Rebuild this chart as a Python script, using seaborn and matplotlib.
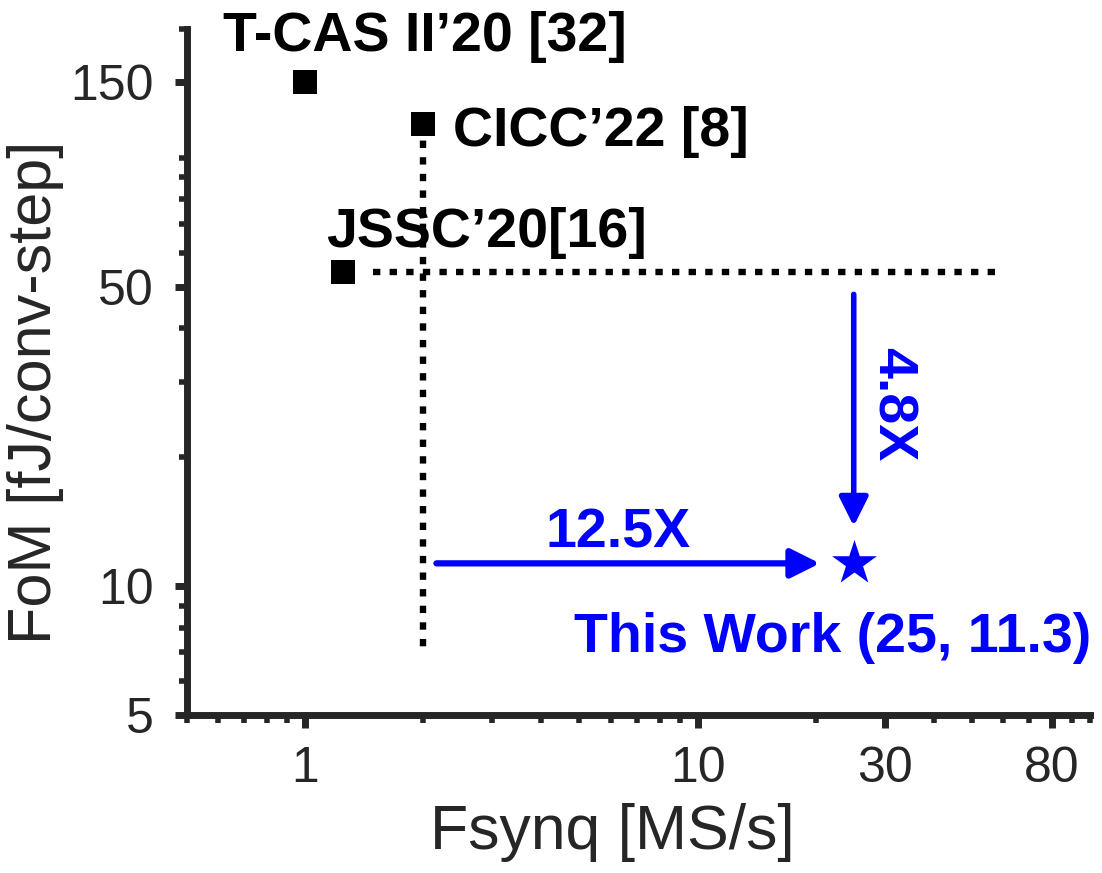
import numpy as np
import pandas as pd
import matplotlib
matplotlib.use("Agg")
import matplotlib.pyplot as plt
import seaborn as sns

# Prior work: sampling rate (MS/s) and FoM (fJ/conv-step)
ref_names = ["T-CAS II\u201920 [32]", "CICC\u201922 [8]", "JSSC\u201920[16]"]
ref_fs = [1.0, 2.0, 1.25]
ref_fom = [150.0, 120.0, 54.0]

# This work
work_fs = [25.0]
work_fom = [11.3]
work_label = "This Work (25, 11.3)"

# Guide lines (dotted) through the best prior points
vguide_x = [2.0, 2.0]
vguide_y = [120.0, 7.0]
hguide_x = [1.49, 60.0]
hguide_y = [54.0, 54.0]

# Improvement arrows
harrow_x = [2.16, 20.5]
harrow_y = [11.3, 11.3]
varrow_x = [25.0, 25.0]
varrow_y = [48.0, 13.8]
speed_gain = "12.5X"
fom_gain = "4.8X"

# Axis ticks
x_major = [1, 10, 30, 80]
x_labels = ["1", "10", "30", "80"]
x_minor = [0.5, 0.6, 0.7, 0.8, 0.9, 2, 3, 4, 5, 6, 7, 8, 9, 20, 40, 50, 60, 70, 90, 100]
y_major = [5, 10, 50, 150]
y_labels = ["5", "10", "50", "150"]
y_minor = [6, 7, 8, 9, 20, 30, 40, 60, 70, 80, 90, 100, 200]

sns.set_style("ticks")
plt.rcParams["font.family"] = ["Liberation Sans", "DejaVu Sans"]

AX = "#262626"
BLUE = "#0000ff"

fig = plt.figure(figsize=(11.02, 8.73), dpi=100)
ax = fig.add_axes([0.1697, 0.1810, 0.8194, 0.7858])

ax.set_xscale("log")
ax.set_yscale("log")

# dotted guides
dots = (0, (1.15, 1.45))
ax.plot(vguide_x, vguide_y, color="black", lw=4.6, ls=dots, zorder=2)
ax.plot(hguide_x, hguide_y, color="black", lw=4.6, ls=dots, zorder=2)

refs = pd.DataFrame({"fs": ref_fs, "fom": ref_fom, "name": ref_names})
work = pd.DataFrame({"fs": work_fs, "fom": work_fom})

sns.scatterplot(data=refs, x="fs", y="fom", marker="s", s=280, color="black",
                linewidth=0, ax=ax, zorder=3, legend=False)
sns.scatterplot(data=work, x="fs", y="fom", marker="*", s=1150, color=BLUE,
                linewidth=0, ax=ax, zorder=3, legend=False)

# arrows
ax.annotate("", xy=(harrow_x[1], harrow_y[1]), xytext=(harrow_x[0], harrow_y[0]),
            arrowprops=dict(arrowstyle="-|>", color=BLUE, lw=4.5,
                            mutation_scale=44, shrinkA=0, shrinkB=0))
ax.annotate("", xy=(varrow_x[1], varrow_y[1]), xytext=(varrow_x[0], varrow_y[0]),
            arrowprops=dict(arrowstyle="-|>", color=BLUE, lw=4.0,
                            mutation_scale=44, shrinkA=0, shrinkB=0))

# point labels
bold = dict(fontsize=40, fontweight="bold")
offsets = [(-59, 23), (21.6, -15.8), (-12.2, 18.7)]
for name, fx, fy, off in zip(ref_names, ref_fs, ref_fom, offsets):
    ax.annotate(name, xy=(fx, fy), xytext=off, textcoords="offset points",
                ha="left", va="baseline", color="black", **bold)

ax.annotate(work_label, xy=(work_fs[0], work_fom[0]), xytext=(-15, -64),
            textcoords="offset points", ha="center", va="baseline",
            color=BLUE, **bold)
ax.annotate(speed_gain, xy=(work_fs[0], work_fom[0]), xytext=(-170, 11.5),
            textcoords="offset points", ha="center", va="baseline",
            color=BLUE, **bold)
ax.annotate(fom_gain, xy=(work_fs[0], work_fom[0]), xytext=(27, 115),
            textcoords="offset points", ha="center", va="center",
            rotation=-90, color=BLUE, **bold)

# axes styling
ax.set_xlim(0.5, 100)
ax.set_ylim(5, 200)
ax.set_xticks(x_major)
ax.set_xticklabels(x_labels)
ax.set_xticks(x_minor, minor=True)
ax.set_yticks(y_major)
ax.set_yticklabels(y_labels)
ax.set_yticks(y_minor, minor=True)
ax.xaxis.set_minor_formatter(matplotlib.ticker.NullFormatter())
ax.yaxis.set_minor_formatter(matplotlib.ticker.NullFormatter())

for side in ["top", "right"]:
    ax.spines[side].set_visible(False)
for side in ["left", "bottom"]:
    ax.spines[side].set_linewidth(5)
    ax.spines[side].set_color(AX)

ax.tick_params(which="major", direction="out", length=9, width=5, color=AX,
               labelsize=36, labelcolor=AX)
ax.tick_params(which="minor", direction="out", length=5.5, width=4, color=AX)
ax.tick_params(axis="x", which="major", pad=13)
ax.tick_params(axis="y", which="major", pad=15)

ax.set_xlabel("Fsynq [MS/s]", fontsize=45, color=AX)
ax.set_ylabel("FoM [fJ/conv-step]", fontsize=44, color=AX)
ax.xaxis.set_label_coords(0.471, -0.172)
ax.xaxis.label.set_va("center")
ax.yaxis.set_label_coords(-0.168, 0.471)
ax.yaxis.label.set_va("center")

fig.savefig("out.png", dpi=100)
